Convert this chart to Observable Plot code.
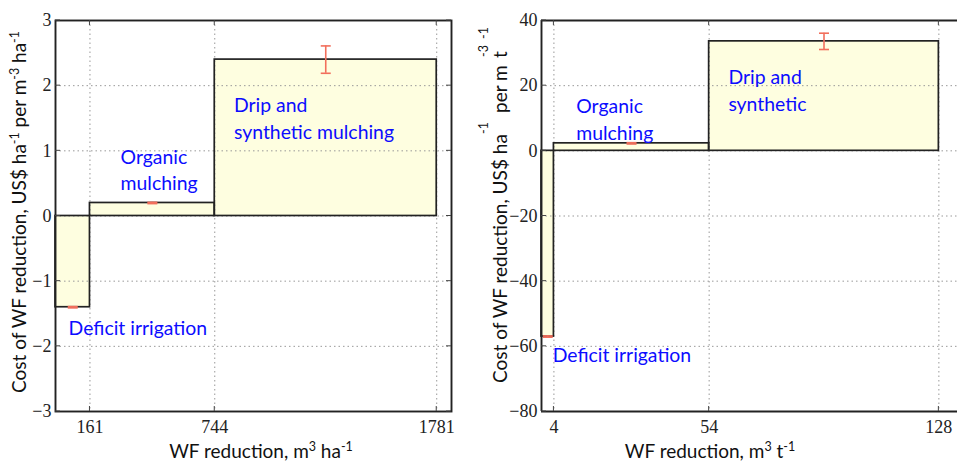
<!DOCTYPE html>
<html><head><meta charset="utf-8">
<script src="https://cdn.jsdelivr.net/npm/d3@7"></script>
<script src="https://cdn.jsdelivr.net/npm/@observablehq/plot@0.6"></script>
<style>
body{margin:0;background:#fff;}
#wrap{display:flex;width:957px;height:462px;overflow:hidden;}
svg{display:block;flex:none;}
</style></head><body><div id="wrap"></div>
<script>
// ---- data ----
const methods = ["Deficit irrigation", "Organic mulching", "Drip and synthetic mulching"];
// per hectare panel
const haBreaks = [0, 161, 744, 1781];
const haCost = [-1.4, 0.2, 2.4];
const haErr = [0.01, 0.01, 0.21];
const haXTicks = [161, 744, 1781];
const haYTicks = [-3, -2, -1, 0, 1, 2, 3];
// per tonne panel
const tBreaks = [0, 4, 54, 128];
const tCost = [-57, 2.3, 33.6];
const tErr = [0.2, 0.2, 2.5];
const tXTicks = [4, 54, 128];
const tYTicks = [-80, -60, -40, -20, 0, 20, 40];
// annotation texts (data coordinates)
const haLabelText = ["Deficit irrigation", "Organic\nmulching", "Drip and\nsynthetic mulching"];
const haLabelX = [61, 304, 834];
const haLabelY = [-1.69, 0.73, 1.515];
const tLabelText = ["Deficit irrigation", "Organic\nmulching", "Drip and\nsynthetic"];
const tLabelX = [3.6, 11.2, 60.2];
const tLabelY = [-62.2, 10.2, 19.1];

// ---- helpers ----
const BAR_FILL = "#fefee0", EDGE = "#222", ERR = "#f26f5c", BLUE = "#0c0cff", GRID = "#999";
const capSymbol = {draw(ctx, size) { const r = Math.sqrt(size / Math.PI); ctx.moveTo(-r, 0); ctx.lineTo(r, 0); }};

function rowsOf(breaks, cost, err) {
  return methods.map((m, i) => ({method: m, x1: breaks[i], x2: breaks[i + 1], mid: (breaks[i] + breaks[i + 1]) / 2, cost: cost[i], err: err[i]}));
}
function labelsOf(texts, xs, ys) { return texts.map((t, i) => ({text: t, x: xs[i], y: ys[i]})); }

function panel({width, marginLeft, marginRight, xDomain, yTicks, xTicks, rows, labels, fullFrame}) {
  const inner = yTicks.slice(1, -1);
  const marks = [
    Plot.rect(rows, {x1: "x1", x2: "x2", y1: () => 0, y2: "cost", fill: BAR_FILL}),
    Plot.ruleY(inner, {stroke: GRID, strokeDasharray: "1.5,3", strokeWidth: 1}),
    Plot.ruleX(xTicks, {stroke: GRID, strokeDasharray: "1.5,3", strokeWidth: 1}),
    Plot.rect(rows, {x1: "x1", x2: "x2", y1: () => 0, y2: "cost", fill: "none", stroke: EDGE, strokeWidth: 1.7}),
    Plot.ruleX(rows, {x: "mid", y1: d => d.cost - d.err, y2: d => d.cost + d.err, stroke: ERR, strokeWidth: 1.6}),
    Plot.dot(rows, {x: "mid", y: d => d.cost - d.err, symbol: capSymbol, r: 5, fill: "none", stroke: ERR, strokeWidth: 1.6}),
    Plot.dot(rows, {x: "mid", y: d => d.cost + d.err, symbol: capSymbol, r: 5, fill: "none", stroke: ERR, strokeWidth: 1.6}),
    Plot.text(labels, {x: "x", y: "y", text: "text", textAnchor: "start", lineAnchor: "middle", fontSize: 19.4, lineHeight: 1.38, fill: BLUE, fontFamily: "Lato"}),
    fullFrame ? Plot.frame({stroke: EDGE, strokeWidth: 1.9})
              : [Plot.ruleY([yTicks[0], yTicks[yTicks.length - 1]], {stroke: EDGE, strokeWidth: 1.9}),
                 Plot.ruleX([xDomain[0]], {stroke: EDGE, strokeWidth: 1.9})],
    Plot.axisX(xTicks, {tickSize: 0, tickPadding: 9, fontSize: 18, fontFamily: "Liberation Sans Narrow", color: "#222", label: null, tickFormat: "d"}),
    Plot.axisY(yTicks, {tickSize: 0, tickPadding: 4, fontSize: 18, fontFamily: "Liberation Sans Narrow", color: "#222", label: null, tickFormat: d3.format("d")})
  ];
  const p = Plot.plot({
    width, height: 462, marginLeft, marginRight, marginTop: 20, marginBottom: 51,
    x: {domain: xDomain}, y: {domain: [yTicks[0], yTicks[yTicks.length - 1]]},
    style: {background: "white", fontFamily: "Lato", overflow: "visible"},
    marks
  });
  // inward tick marks using the plot's own scales
  const sx = p.scale("x"), sy = p.scale("y");
  const g = d3.select(p).append("g").attr("stroke", "#444").attr("stroke-width", 1);
  const yb = sy.apply(yTicks[0]), yt = sy.apply(yTicks[yTicks.length - 1]);
  const xl = sx.apply(xDomain[0]), xr = sx.apply(xDomain[1]);
  xTicks.forEach(v => {
    const x = sx.apply(v);
    g.append("line").attr("x1", x).attr("x2", x).attr("y1", yb).attr("y2", yb - 5);
    g.append("line").attr("x1", x).attr("x2", x).attr("y1", yt).attr("y2", yt + 5);
  });
  yTicks.forEach(v => {
    const y = sy.apply(v);
    g.append("line").attr("x1", xl).attr("x2", xl + 5).attr("y1", y).attr("y2", y);
    if (fullFrame) g.append("line").attr("x1", xr).attr("x2", xr - 5).attr("y1", y).attr("y2", y);
  });
  return p;
}

function addText(svg, x, y, rotate, parts) {
  const t = d3.select(svg).append("text")
    .attr("transform", `translate(${x},${y})` + (rotate ? " rotate(-90)" : ""))
    .attr("text-anchor", "middle")
    .attr("font-family", "Lato").attr("font-size", 19).attr("fill", "#111")
    .style("white-space", "pre");
  parts.forEach(([s, sup]) => {
    const ts = t.append("tspan").text(s);
    if (sup === 1) ts.attr("dy", -7).attr("font-size", 12.5);
    if (sup === -1) ts.attr("dy", 7);
  });
  return t;
}

const wrap = document.getElementById("wrap");

// ---- left panel ----
const left = panel({
  width: 480, marginLeft: 55, marginRight: 29, xDomain: [0, 1850],
  yTicks: haYTicks, xTicks: haXTicks, rows: rowsOf(haBreaks, haCost, haErr),
  labels: labelsOf(haLabelText, haLabelX, haLabelY), fullFrame: true
});
addText(left, 26, 212, true, [["Cost of WF reduction, US$ ha"], ["-1", 1], [" per m", -1], ["-3", 1], [" ha", -1], ["-1", 1]]);
addText(left, 261, 458, false, [["WF reduction, m"], ["3", 1], [" ha", -1], ["-1", 1]]);
wrap.appendChild(left);

// ---- right panel ----
const right = panel({
  width: 477, marginLeft: 61, marginRight: 0, xDomain: [0, 134],
  yTicks: tYTicks, xTicks: tXTicks, rows: rowsOf(tBreaks, tCost, tErr),
  labels: labelsOf(tLabelText, tLabelX, tLabelY), fullFrame: false
});
{
  const t = d3.select(right).append("text")
    .attr("transform", "translate(27,383) rotate(-90)")
    .attr("text-anchor", "start")
    .attr("font-family", "Lato").attr("font-size", 19).attr("fill", "#111");
  t.append("tspan").attr("x", 0).text("Cost of WF reduction, US$ ha");
  t.append("tspan").attr("x", 270).text("per m");
  t.append("tspan").attr("x", 325).text("t");
  const s = d3.select(right).append("text")
    .attr("transform", "translate(8,383) rotate(-90)")
    .attr("text-anchor", "start")
    .attr("font-family", "Lato").attr("font-size", 12.5).attr("fill", "#111");
  s.append("tspan").attr("x", 249).text("-1");
  s.append("tspan").attr("x", 326).text("-3");
  s.append("tspan").attr("x", 344).text("-1");
}
addText(right, 230, 458, false, [["WF reduction, m"], ["3", 1], [" t", -1], ["-1", 1]]);
wrap.appendChild(right);
</script></body></html>
